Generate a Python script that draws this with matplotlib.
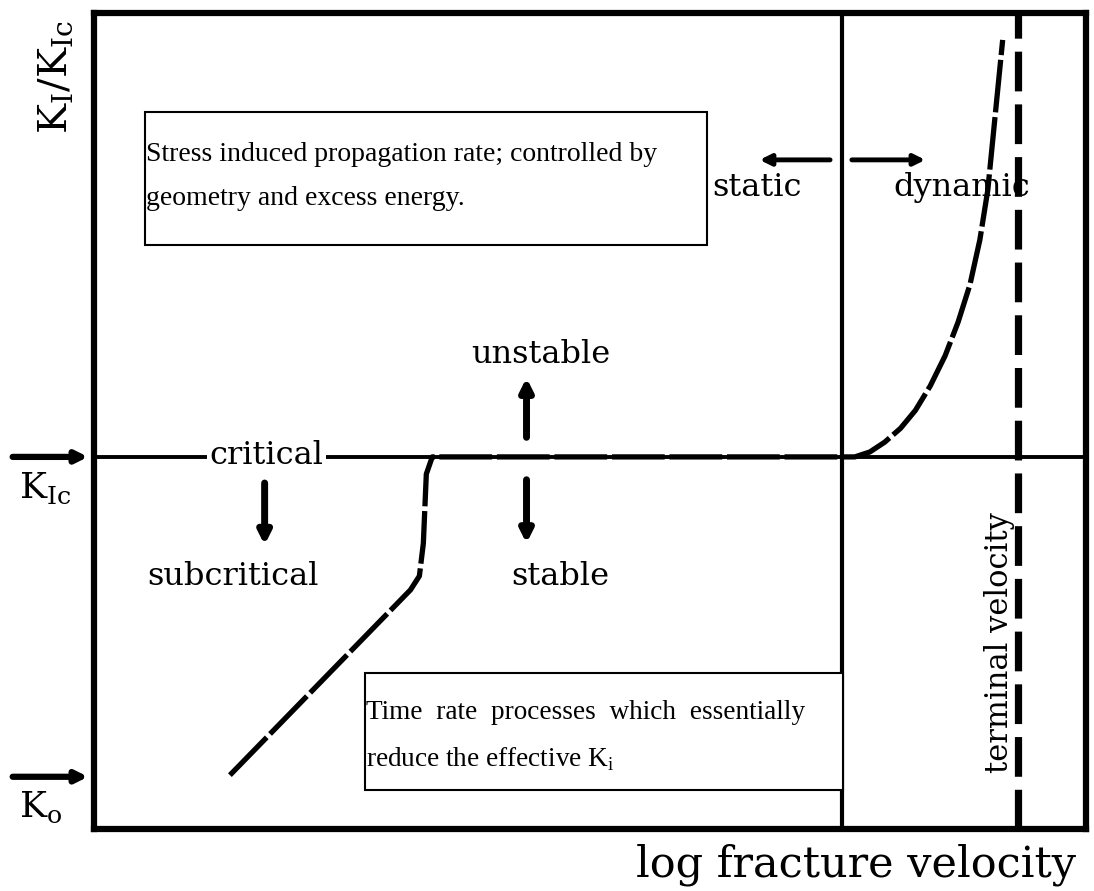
import matplotlib.pyplot as plt
from matplotlib.patches import Rectangle

# levels on the schematic (axis runs 0..100 both ways)
k_ic = 45.6          # critical stress intensity
k_0 = 6.4            # threshold K_o
v_split = 75.4       # static / dynamic boundary
v_terminal = 93.1    # terminal velocity

# crack velocity curve
curve_x = [13.7, 31.9, 32.8, 33.2, 33.5, 34.1, 55.0, 76.7, 78.2, 79.7, 81.3,
           82.8, 84.3, 85.8, 87.1, 88.3, 89.3, 90.1, 90.8, 91.6]
curve_y = [6.6, 29.3, 31.0, 35.0, 43.5, 45.6, 45.6, 45.6, 46.2, 47.4, 49.1,
           51.3, 54.3, 58.0, 62.1, 66.7, 72.2, 78.3, 86.9, 96.7]

label_font = 'DejaVu Serif'
box_font = 'Liberation Serif'


def make_plot():
    fig = plt.figure(figsize=(10.94, 8.91), dpi=100)
    ax = fig.add_axes([94 / 1094, 62 / 891, 992 / 1094, 816 / 891])
    ax.set_xlim(0, 100)
    ax.set_ylim(0, 100)
    ax.set_xticks([])
    ax.set_yticks([])
    for s in ax.spines.values():
        s.set_linewidth(4.5)

    # reference lines
    ax.axhline(k_ic, color='black', lw=2.8, zorder=2)
    ax.axvline(v_split, color='black', lw=3.0, zorder=2)
    ax.axvline(v_terminal, color='black', lw=5.2, dashes=(5.5, 1.8), zorder=2)

    # the curve
    ax.plot(curve_x, curve_y, color='black', lw=3.8, dashes=(10, 0.9),
            solid_capstyle='butt', zorder=3)

    txt = dict(family=label_font, fontsize=23, ha='center', va='center')
    ax.text(17.4, 45.8, 'critical', zorder=4,
            bbox=dict(facecolor='white', edgecolor='none', pad=1.5), **txt)
    ax.text(14.0, 30.9, 'subcritical', **txt)
    ax.text(45.0, 58.1, 'unstable', **txt)
    ax.text(47.0, 30.9, 'stable', **txt)
    ax.text(66.8, 78.6, 'static', **txt)
    ax.text(87.5, 78.6, 'dynamic', **txt)
    ax.text(91.3, 22.9, 'terminal velocity', rotation=90,
            **dict(txt, fontsize=22))

    arrow = dict(arrowstyle='-|>', lw=5, color='black', mutation_scale=18,
                 shrinkA=0, shrinkB=0)
    ax.annotate('', xy=(17.2, 34.8), xytext=(17.2, 42.4), arrowprops=arrow)
    ax.annotate('', xy=(43.6, 55.3), xytext=(43.6, 48.0), arrowprops=arrow)
    ax.annotate('', xy=(43.6, 35.0), xytext=(43.6, 42.8), arrowprops=arrow)
    thin = dict(arrow, lw=3.5, mutation_scale=16)
    ax.annotate('', xy=(67.1, 82.0), xytext=(74.2, 82.0), arrowprops=thin)
    ax.annotate('', xy=(83.8, 82.0), xytext=(76.4, 82.0), arrowprops=thin)

    # axis marks outside the frame
    side = dict(arrow, lw=4.5, mutation_scale=17)
    ax.annotate('', xy=(-0.6, k_ic), xytext=(-8.2, k_ic), arrowprops=side,
                annotation_clip=False)
    ax.annotate('', xy=(-0.6, k_0), xytext=(-8.2, k_0), arrowprops=side,
                annotation_clip=False)
    ax.text(-4.9, 41.8, r'K$_\mathregular{Ic}$', family=label_font,
            fontsize=26, ha='center', va='center', clip_on=False)
    ax.text(-5.4, 2.6, r'K$_\mathregular{o}$', family=label_font,
            fontsize=26, ha='center', va='center', clip_on=False)
    ax.text(-3.9, 92.2, r'K$_\mathregular{I}$/K$_\mathregular{Ic}$',
            family=label_font, fontsize=29, rotation=90, ha='center',
            va='center', clip_on=False)
    ax.text(76.8, -4.4, 'log fracture velocity', family=label_font,
            fontsize=31, ha='center', va='center', clip_on=False)

    # explanatory boxes
    ax.add_patch(Rectangle((5.1, 71.6), 56.7, 16.3, facecolor='white',
                           edgecolor='black', lw=1.5, zorder=5))
    ax.text(5.2, 82.6, 'Stress induced propagation rate; controlled by',
            family=box_font, fontsize=20, va='center', zorder=6)
    ax.text(5.2, 77.3, 'geometry and excess energy.',
            family=box_font, fontsize=20, va='center', zorder=6)

    ax.add_patch(Rectangle((27.3, 4.8), 48.2, 14.3, facecolor='white',
                           edgecolor='black', lw=1.5, zorder=5))
    ax.text(27.4, 14.3, 'Time  rate  processes  which  essentially',
            family=box_font, fontsize=19.6, va='center', zorder=6)
    ax.text(27.4, 8.6, r'reduce the effective K$_\mathregular{i}$',
            family=box_font, fontsize=19.6, va='center', zorder=6)

    fig.savefig('out.png', dpi=100)


if __name__ == "__main__":
    make_plot()
